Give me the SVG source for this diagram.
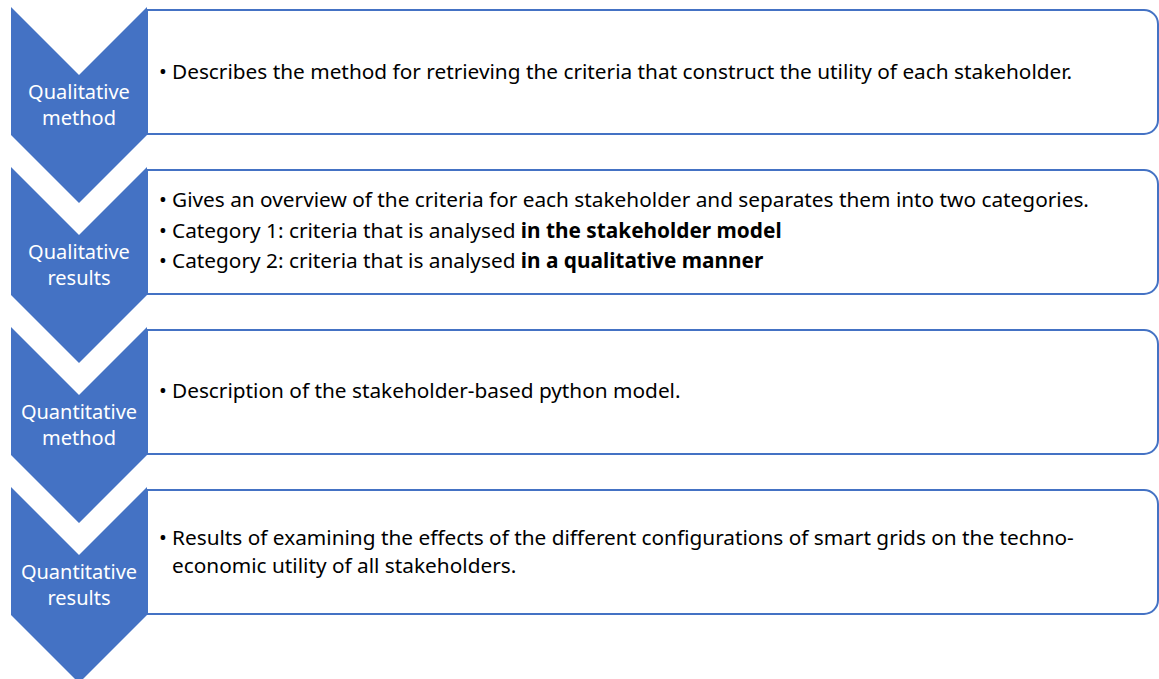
<svg xmlns="http://www.w3.org/2000/svg" width="1159" height="679" viewBox="0 0 1159 679">
<style>
.box{fill:#fff;stroke:#4472C4;stroke-width:2}
.chev{fill:#4472C4}
.lbl{font-family:"Noto Sans","Open Sans",sans-serif;font-size:20px;fill:#fff;text-anchor:middle}
.txt{font-family:"Noto Sans","Open Sans",sans-serif;font-size:20.8px;fill:#000}
.b{font-weight:bold}
</style>
<rect width="1159" height="679" fill="#fff"/>
<g id="box1"><path class="box" d="M147,10 H1144 A14,14 0 0 1 1158,24 V120 A14,14 0 0 1 1144,134 H147 Z"/>
<text class="txt" x="159" y="79">•</text><text class="txt" x="172" y="79">Describes the method for retrieving the criteria that construct the utility of each stakeholder.</text></g>
<g id="box2"><path class="box" d="M147,170 H1144 A14,14 0 0 1 1158,184 V280 A14,14 0 0 1 1144,294 H147 Z"/>
<text class="txt" x="159" y="207">•</text><text class="txt" x="172" y="207">Gives an overview of the criteria for each stakeholder and separates them into two categories.</text>
<text class="txt" x="159" y="238">•</text><text class="txt" x="172" y="238">Category 1: criteria that is analysed <tspan class="b">in the stakeholder model</tspan></text>
<text class="txt" x="159" y="268">•</text><text class="txt" x="172" y="268">Category 2: criteria that is analysed <tspan class="b">in a qualitative manner</tspan></text></g>
<g id="box3"><path class="box" d="M147,330 H1144 A14,14 0 0 1 1158,344 V440 A14,14 0 0 1 1144,454 H147 Z"/>
<text class="txt" x="159" y="398">•</text><text class="txt" x="172" y="398">Description of the stakeholder-based python model.</text></g>
<g id="box4"><path class="box" d="M147,490 H1144 A14,14 0 0 1 1158,504 V600 A14,14 0 0 1 1144,614 H147 Z"/>
<text class="txt" x="159" y="545">•</text><text class="txt" x="172" y="545">Results of examining the effects of the different configurations of smart grids on the techno-</text>
<text class="txt" x="172" y="573">economic utility of all stakeholders.</text></g>
<g id="chev1"><polygon class="chev" points="11,7 79,75 147,7 147,135 79,203 11,135"/>
<text class="lbl" x="79" y="99">Qualitative</text><text class="lbl" x="79" y="125">method</text></g>
<g id="chev2"><polygon class="chev" points="11,167 79,235 147,167 147,295 79,363 11,295"/>
<text class="lbl" x="79" y="259">Qualitative</text><text class="lbl" x="79" y="285">results</text></g>
<g id="chev3"><polygon class="chev" points="11,327 79,395 147,327 147,455 79,523 11,455"/>
<text class="lbl" x="79" y="419">Quantitative</text><text class="lbl" x="79" y="445">method</text></g>
<g id="chev4"><polygon class="chev" points="11,487 79,555 147,487 147,615 79,683 11,615"/>
<text class="lbl" x="79" y="579">Quantitative</text><text class="lbl" x="79" y="605">results</text></g>
<g id="connectors"/>
</svg>
